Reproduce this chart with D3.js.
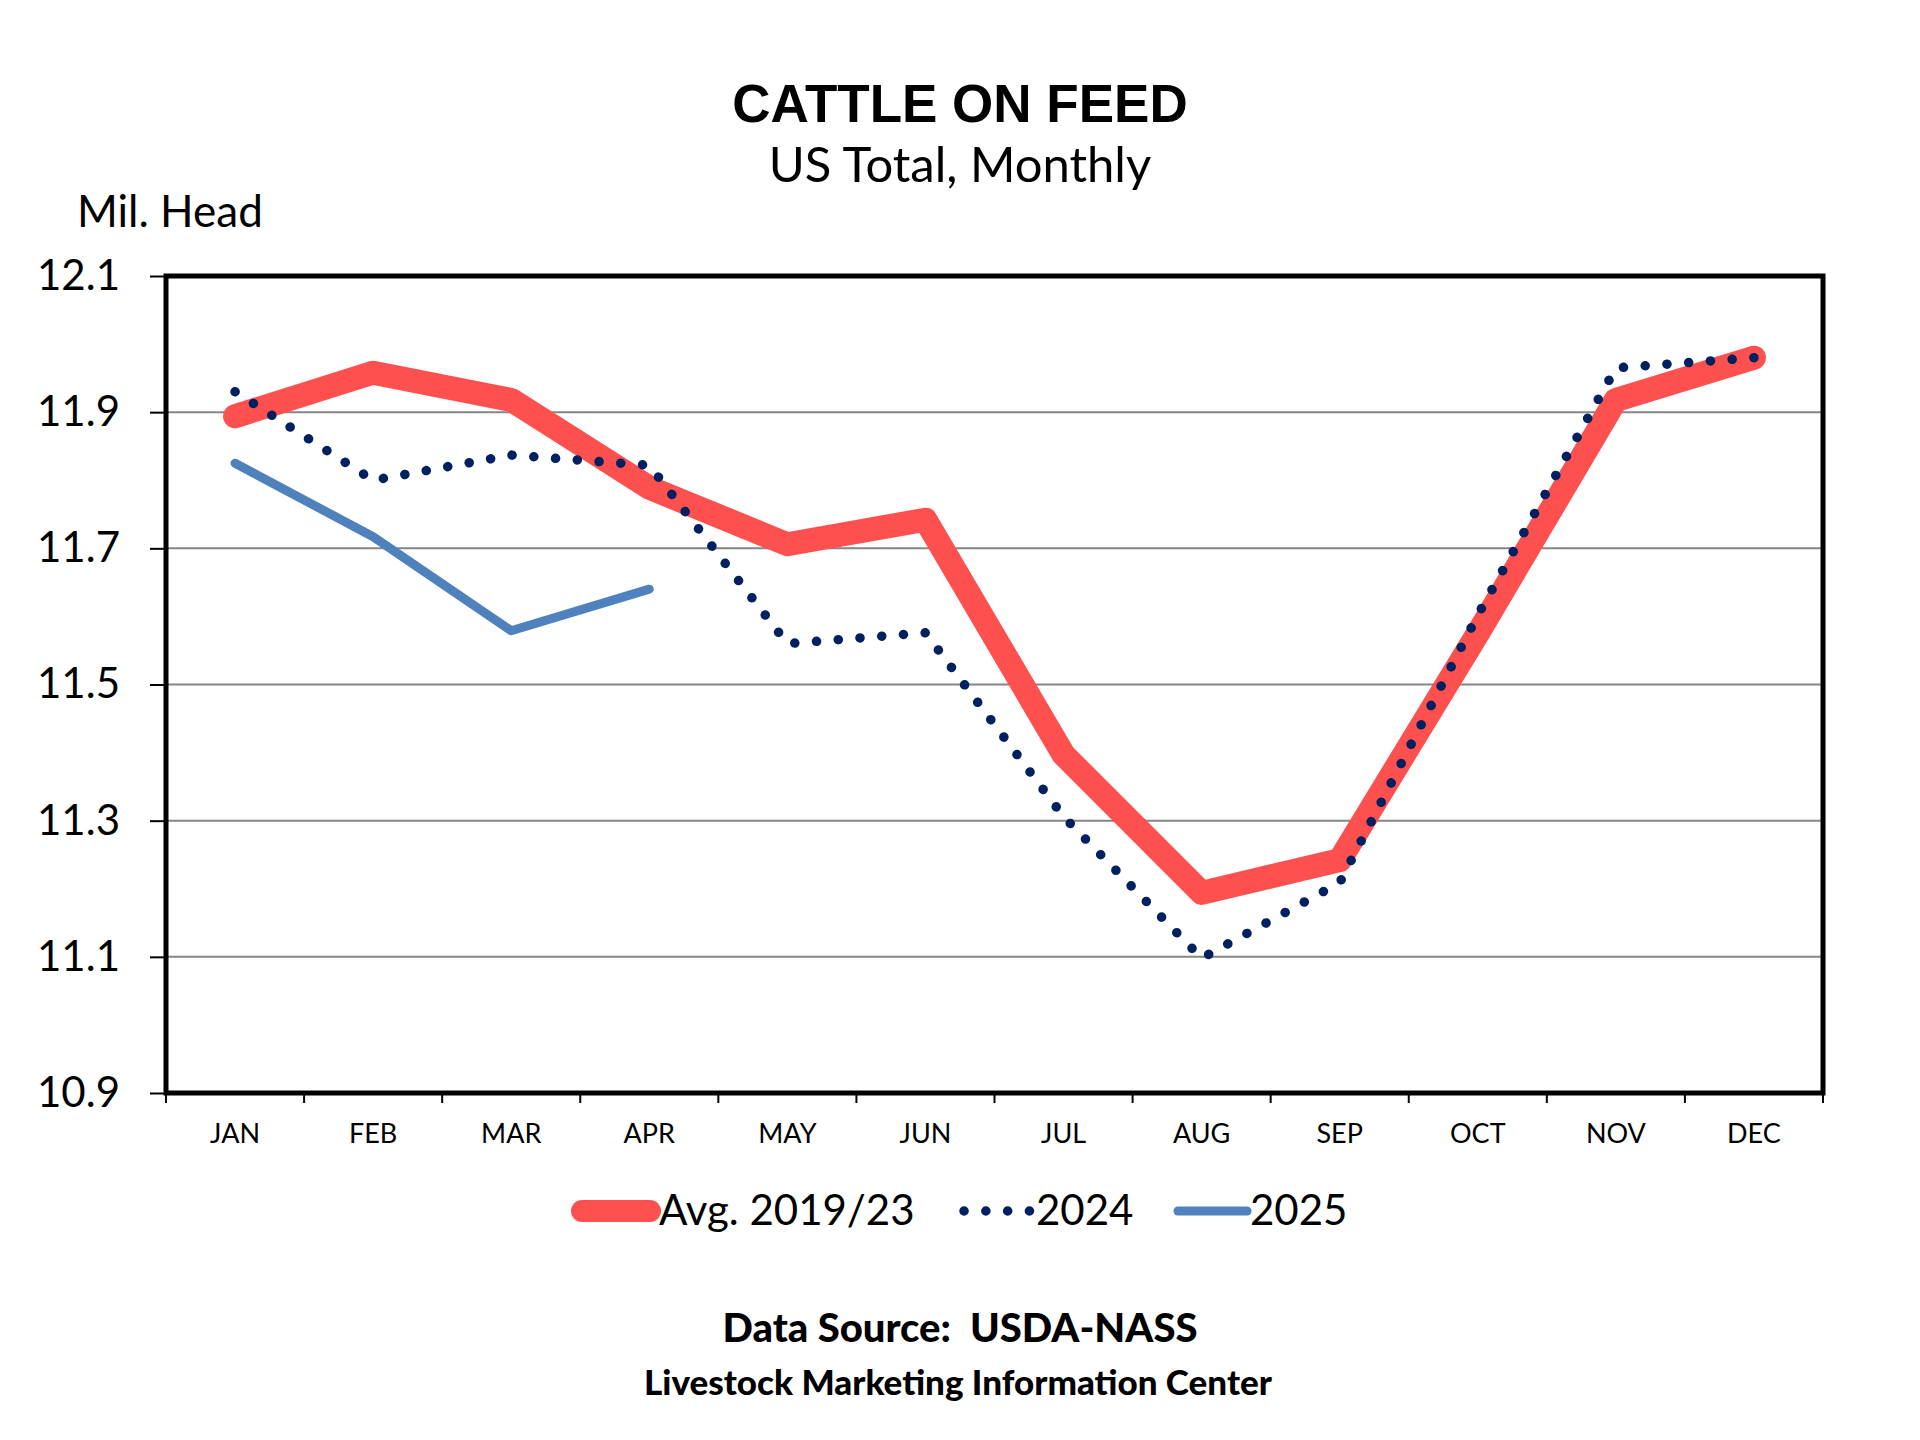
<!DOCTYPE html>
<html>
<head>
<meta charset="utf-8">
<script src="https://cdn.jsdelivr.net/npm/d3@7"></script>
<style>
	html, body { margin: 0; padding: 0; background: #fff; }
	svg { display: block; }
	.calib { font-family: Lato, "Open Sans", sans-serif; }
</style>
</head>
<body>
<div id="chartDiv"></div>
<script>
// values (million head)
const months = ['JAN','FEB','MAR','APR','MAY','JUN','JUL','AUG','SEP','OCT','NOV','DEC'];
const avg1923 = [11.894, 11.958, 11.918, 11.789, 11.706, 11.742, 11.397, 11.194, 11.242, 11.575, 11.918, 11.980];
const y2024 = [11.930, 11.800, 11.837, 11.822, 11.560, 11.576, 11.306, 11.098, 11.209, 11.602, 11.965, 11.980];
const y2025 = [11.825, 11.717, 11.579, 11.640];
const yTicks = [10.9, 11.1, 11.3, 11.5, 11.7, 11.9, 12.1];

const seriesList = [
	{ name: 'Avg. 2019/23', values: avg1923, color: '#ff5050', width: 24, dash: null },
	{ name: '2024', values: y2024, color: '#002060', width: 9.5, dash: '0.1 21.7' },
	{ name: '2025', values: y2025, color: '#4f81bd', width: 9, dash: null }
];

const W = 1920, H = 1440;
const plot = { left: 166, right: 1823, top: 276, bottom: 1093 };

const svg = d3.select('#chartDiv').append('svg')
	.attr('width', W)
	.attr('height', H);

const xBand = d3.scaleBand().domain(months).range([plot.left, plot.right]);
const xPos = m => xBand(m) + xBand.bandwidth() / 2;
const yScale = d3.scaleLinear().domain([10.9, 12.1]).range([plot.bottom, plot.top]);

// titles
svg.append('text')
	.attr('x', 960).attr('y', 122)
	.attr('text-anchor', 'middle')
	.style('font-family', '"Liberation Sans", Arial, sans-serif')
	.style('font-weight', 'bold')
	.style('font-size', '53px')
	.text('CATTLE ON FEED');

svg.append('text')
	.attr('class', 'calib')
	.attr('x', 960).attr('y', 182)
	.attr('text-anchor', 'middle')
	.style('font-size', '49px')
	.text('US Total, Monthly');

svg.append('text')
	.attr('class', 'calib')
	.attr('x', 77).attr('y', 227)
	.style('font-size', '44px')
	.text('Mil. Head');

// gridlines (inside only)
svg.append('g')
	.selectAll('line')
	.data(yTicks.filter(t => t > 10.95 && t < 12.05))
	.enter().append('line')
	.attr('x1', plot.left).attr('x2', plot.right)
	.attr('y1', d => yScale(d)).attr('y2', d => yScale(d))
	.attr('stroke', '#868686')
	.attr('stroke-width', 2);

// y axis
const yAxis = d3.axisLeft(yScale)
	.tickValues(yTicks)
	.tickFormat(d3.format('.1f'))
	.tickSize(16)
	.tickPadding(30);
const yG = svg.append('g')
	.attr('transform', `translate(${plot.left},0)`)
	.call(yAxis);
yG.select('.domain').remove();
yG.selectAll('line').attr('stroke', '#000').attr('stroke-width', 2);
yG.selectAll('text')
	.attr('class', 'calib')
	.style('font-size', '42px')
	.attr('fill', '#000');

// x axis: ticks at band edges, labels at centres
const xAxis = d3.axisBottom(xBand).tickSize(0).tickPadding(31);
const xG = svg.append('g')
	.attr('transform', `translate(0,${plot.bottom})`)
	.call(xAxis);
xG.select('.domain').remove();
xG.selectAll('text')
	.attr('class', 'calib')
	.style('font-size', '27px')
	.attr('fill', '#000');

svg.append('g')
	.selectAll('line')
	.data(months.concat(['end']))
	.enter().append('line')
	.attr('x1', (d, i) => i < months.length ? xBand(d) : plot.right)
	.attr('x2', (d, i) => i < months.length ? xBand(d) : plot.right)
	.attr('y1', plot.bottom).attr('y2', plot.bottom + 10)
	.attr('stroke', '#000')
	.attr('stroke-width', 2);

// series lines
const lineGen = d3.line()
	.x((d, i) => xPos(months[i]))
	.y(d => yScale(d));

const seriesG = svg.append('g');
seriesList.forEach(s => {
	const p = seriesG.append('path')
		.datum(s.values)
		.attr('d', lineGen)
		.attr('fill', 'none')
		.attr('stroke', s.color)
		.attr('stroke-width', s.width)
		.attr('stroke-linecap', 'round')
		.attr('stroke-linejoin', 'round');
	if (s.dash) p.attr('stroke-dasharray', s.dash);
});

// plot frame
svg.append('rect')
	.attr('x', plot.left).attr('y', plot.top)
	.attr('width', plot.right - plot.left)
	.attr('height', plot.bottom - plot.top)
	.attr('fill', 'none')
	.attr('stroke', '#000')
	.attr('stroke-width', 5);

// legend
const legendItems = [
	{ s: seriesList[0], x1: 582, x2: 650, tx: 659 },
	{ s: seriesList[1], x1: 964, x2: 1030, tx: 1036 },
	{ s: seriesList[2], x1: 1178, x2: 1247, tx: 1250 }
];
const legG = svg.append('g');
legendItems.forEach(it => {
	const l = legG.append('line')
		.attr('x1', it.x1).attr('x2', it.x2)
		.attr('y1', 1211).attr('y2', 1211)
		.attr('stroke', it.s.color)
		.attr('stroke-width', it.s.width === 24 ? 22 : it.s.width)
		.attr('stroke-linecap', 'round');
	if (it.s.dash) l.attr('stroke-dasharray', it.s.dash);
	legG.append('text')
		.attr('class', 'calib')
		.attr('x', it.tx).attr('y', 1225)
		.style('font-size', '42px')
		.text(it.s.name);
});

// footer
svg.append('text')
	.attr('class', 'calib')
	.attr('x', 960).attr('y', 1342)
	.attr('text-anchor', 'middle')
	.style('font-size', '40px')
	.style('font-weight', '900')
	.style('white-space', 'pre')
	.text('Data Source:  USDA-NASS');

svg.append('text')
	.attr('class', 'calib')
	.attr('x', 958).attr('y', 1395)
	.attr('text-anchor', 'middle')
	.style('font-size', '35px')
	.style('font-weight', '900')
	.text('Livestock Marketing Information Center');
</script>
</body>
</html>
